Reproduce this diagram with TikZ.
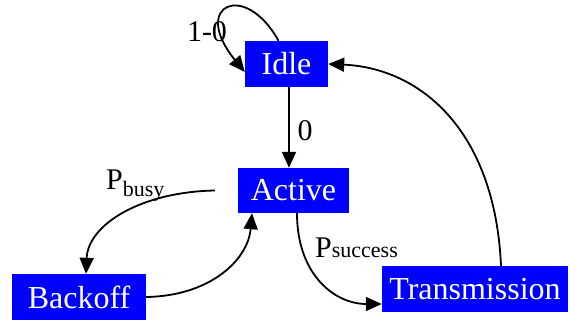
\documentclass[tikz,border=0pt]{standalone}
\usepackage{fontspec}
\setmainfont{Liberation Serif}
\usetikzlibrary{arrows.meta}
\begin{document}
\begin{tikzpicture}[x=1pt,y=-1pt,
  state/.style={fill=blue,text=white,inner sep=0pt,font=\fontsize{32}{32}\selectfont},
  edge/.style={line width=1.8pt,-{Triangle[length=16pt,width=14pt]}},
  lbl/.style={font=\fontsize{30}{30}\selectfont,inner sep=0pt}]
\useasboundingbox (0,0) rectangle (576,320);
\node[state,minimum width=83pt,minimum height=46pt] (idle) at (286.5,64) {Idle};
\node[state,minimum width=111pt,minimum height=45pt] (active) at (293.5,190.5) {Active};
\node[state,minimum width=134pt,minimum height=46pt] (backoff) at (79,297) {Backoff};
\node[state,minimum width=186pt,minimum height=46pt] (trans) at (475,289) {Transmission};
\draw[edge] ([xshift=-8pt]idle.north) .. controls (245,-20) and (190,5) .. ([yshift=-8pt]idle.west);
\draw[edge] ([xshift=2.5pt]idle.south) -- ([xshift=-4.5pt]active.north);
\draw[edge] ([xshift=-23pt]active.west) .. controls (140,192) and (88,225) .. ([xshift=7pt]backoff.north);
\draw[edge] (backoff.east) .. controls (210,296) and (248,260) .. ([xshift=-41.5pt]active.south);
\draw[edge] ([xshift=3.5pt]active.south) .. controls (297,275) and (335,304) .. ([yshift=-15pt]trans.west);
\draw[edge] ([xshift=26pt]trans.north) .. controls (495,130) and (420,68) .. (idle.east);
\node[lbl] (l10) at (207,32) {1-0};
\node[lbl] (l0) at (305,131) {0};
\node[lbl,anchor=base west] (lbusy) at (106,190) {P\raisebox{-7pt}{\fontsize{22}{22}\selectfont busy}};
\node[lbl,anchor=base west] (lsucc) at (315,258) {P\fontsize{22}{22}\selectfont success};
\end{tikzpicture}
\end{document}
